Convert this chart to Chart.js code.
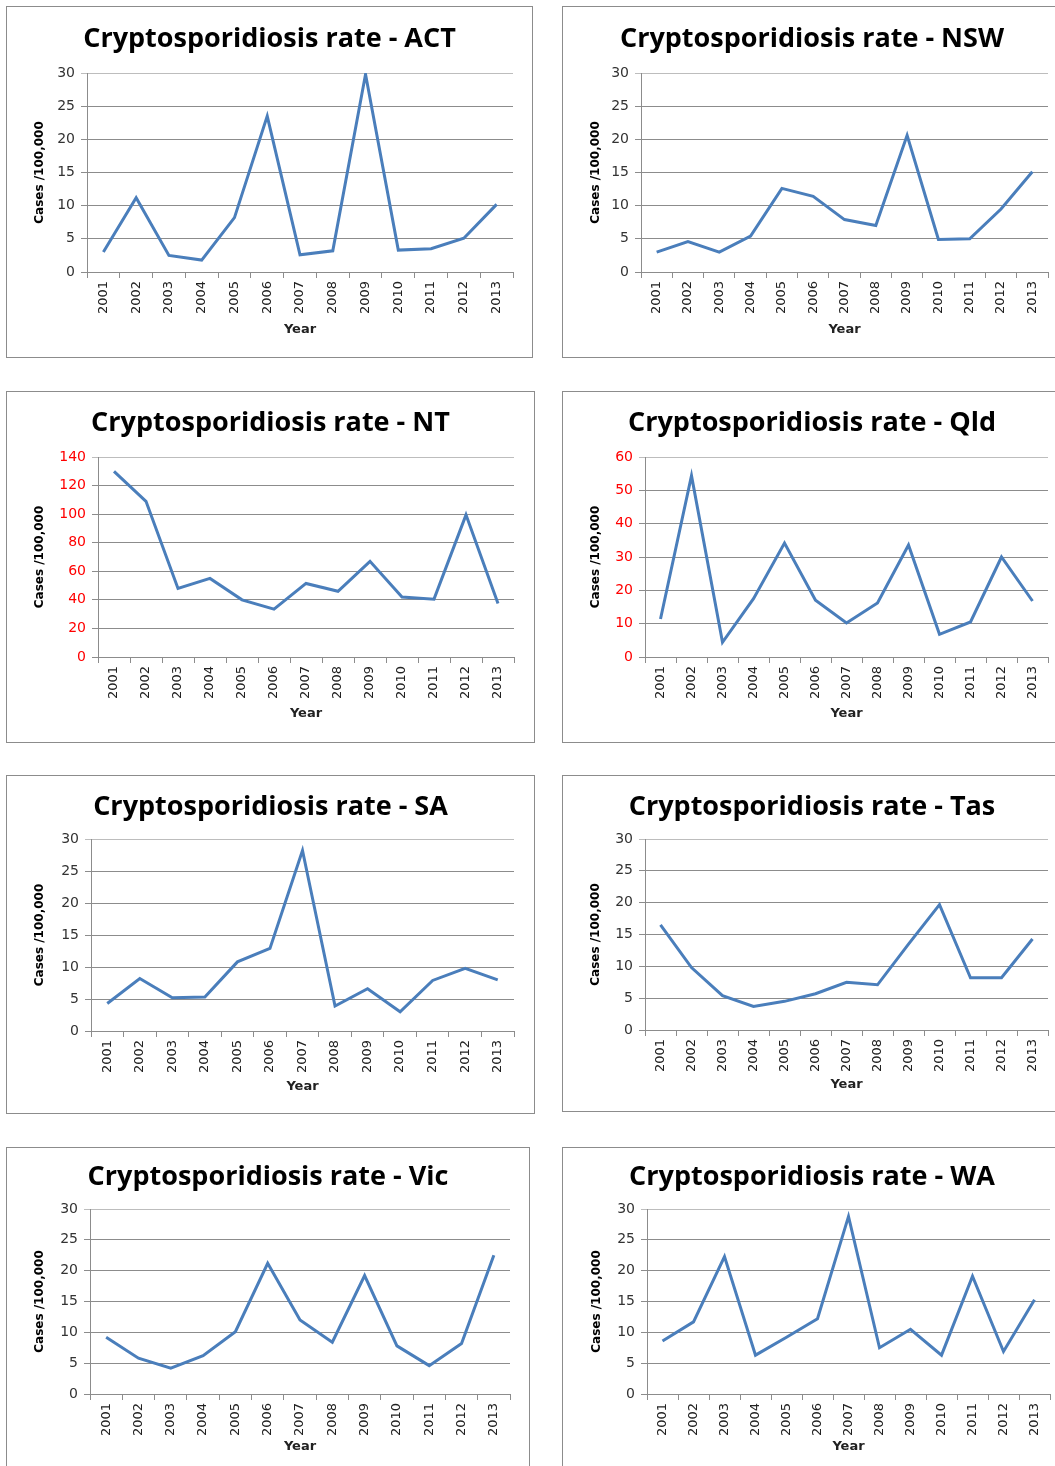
<!DOCTYPE html>
<html>
<head>
<meta charset="utf-8">
<title>Cryptosporidiosis rates</title>
<script src="https://cdn.jsdelivr.net/npm/chart.js@4.4.1/dist/chart.umd.min.js"></script>
<style>
    body { margin: 0; background: #fff; width: 1055px; height: 1466px; overflow: hidden; position: relative; }
    .panel { position: absolute; box-sizing: border-box; border: 1px solid #8c8c8c; }
    .panel canvas { position: absolute; left: -1px; top: -1px; }
</style>
</head>
<body>
<script>
// DATA
const years = ['2001', '2002', '2003', '2004', '2005', '2006', '2007', '2008', '2009', '2010', '2011', '2012', '2013'];

const actRates = [3.0, 11.2, 2.5, 1.8, 8.2, 23.5, 2.6, 3.2, 29.8, 3.3, 3.5, 5.1, 10.2];
const nswRates = [3.0, 4.6, 3.0, 5.4, 12.6, 11.4, 7.9, 7.0, 20.6, 4.9, 5.0, 9.5, 15.1];
const ntRates  = [130, 109, 48, 55, 40, 33.5, 51.5, 46, 67, 42, 40.5, 99.5, 37.5];
const qldRates = [11.4, 54.4, 4.4, 17.5, 34.2, 17.0, 10.2, 16.2, 33.6, 6.8, 10.5, 30.0, 16.8];
const saRates  = [4.3, 8.2, 5.2, 5.3, 10.8, 12.9, 28.2, 3.9, 6.6, 3.0, 7.9, 9.8, 8.0];
const tasRates = [16.5, 9.8, 5.4, 3.7, 4.5, 5.7, 7.5, 7.1, 13.5, 19.7, 8.2, 8.2, 14.3];
const vicRates = [9.2, 5.8, 4.2, 6.2, 10.1, 21.2, 12.0, 8.4, 19.2, 7.8, 4.6, 8.2, 22.5];
const waRates  = [8.6, 11.7, 22.3, 6.3, 9.2, 12.2, 28.8, 7.5, 10.5, 6.3, 19.1, 6.9, 15.3];

// y axis ranges [max, step]
const axis30 = [30, 5];
const axis60 = [60, 10];
const axis140 = [140, 20];

// LAYOUT (page px): box = [left, top, width, height], plot = [left, top, right, bottom]
const panels = [
    { name: 'ACT', data: actRates, axis: axis30,  red: false, box: [6, 6, 527, 352],      plot: [87, 73, 513, 272],     titleY: 39,   yearY: 330,  casesX: 40 },
    { name: 'NSW', data: nswRates, axis: axis30,  red: false, box: [562, 6, 500, 352],    plot: [641, 73, 1048, 272],   titleY: 39,   yearY: 330,  casesX: 596 },
    { name: 'NT',  data: ntRates,  axis: axis140, red: true,  box: [6, 391, 529, 352],    plot: [98, 457, 514, 657],    titleY: 423,  yearY: 714,  casesX: 40 },
    { name: 'Qld', data: qldRates, axis: axis60,  red: true,  box: [562, 391, 500, 352],  plot: [645, 457, 1048, 657],  titleY: 423,  yearY: 714,  casesX: 596 },
    { name: 'SA',  data: saRates,  axis: axis30,  red: false, box: [6, 775, 529, 339],    plot: [91, 839, 514, 1031],   titleY: 807,  yearY: 1087, casesX: 40 },
    { name: 'Tas', data: tasRates, axis: axis30,  red: false, box: [562, 775, 500, 337],  plot: [645, 839, 1048, 1030], titleY: 807,  yearY: 1085, casesX: 596 },
    { name: 'Vic', data: vicRates, axis: axis30,  red: false, box: [6, 1147, 524, 330],   plot: [90, 1209, 510, 1394],  titleY: 1177, yearY: 1447, casesX: 40 },
    { name: 'WA',  data: waRates,  axis: axis30,  red: false, box: [562, 1147, 500, 330], plot: [647, 1209, 1050, 1394], titleY: 1177, yearY: 1447, casesX: 597 }
];

Chart.defaults.font.family = '"DejaVu Sans", sans-serif';
Chart.defaults.animation = false;

const TITLE_SIZE = 27;
const AXIS_TITLE_SIZE = 12;
const YEAR_TITLE_SIZE = 13;

panels.forEach(p => {
    const [bx, by, bw, bh] = p.box;
    const left = p.plot[0] - bx;
    const top = p.plot[1] - by;
    const right = p.plot[2] - bx;
    const bottom = p.plot[3] - by;
    // same padding on both sides keeps the title centred on the box
    const side = bw - right;

    const wrap = document.createElement('div');
    wrap.className = 'panel';
    wrap.style.left = bx + 'px';
    wrap.style.top = by + 'px';
    wrap.style.width = bw + 'px';
    wrap.style.height = bh + 'px';
    const canvas = document.createElement('canvas');
    canvas.width = bw;
    canvas.height = bh;
    wrap.appendChild(canvas);
    document.body.appendChild(wrap);

    const titleLh = TITLE_SIZE * 1.2;
    const titlePadTop = (p.titleY - by) - titleLh / 2;
    const titlePadBottom = top - titlePadTop - titleLh;

    const tickColor = p.red ? '#ff0000' : '#333333';
    const [yMax, yStep] = p.axis;

    new Chart(canvas, {
        type: 'line',
        data: {
            labels: years,
            datasets: [{
                label: p.name,
                data: p.data,
                borderColor: '#4a7ebb',
                borderWidth: 3,
                pointRadius: 0,
                tension: 0,
                fill: false
            }]
        },
        options: {
            responsive: false,
            maintainAspectRatio: false,
            layout: { padding: { left: side, top: 0, right: side, bottom: 0 } },
            plugins: {
                legend: { display: false },
                tooltip: { enabled: false },
                title: {
                    display: true,
                    text: 'Cryptosporidiosis rate - ' + p.name,
                    color: '#000',
                    font: { family: '"Open Sans", sans-serif', size: TITLE_SIZE, weight: 'bold', lineHeight: 1.2 },
                    padding: { top: titlePadTop, bottom: titlePadBottom }
                }
            },
            scales: {
                x: {
                    offset: true,
                    grid: { offset: true, drawOnChartArea: false, drawTicks: true, tickLength: 6, color: '#8c8c8c' },
                    border: { color: '#8c8c8c' },
                    ticks: { autoSkip: false, minRotation: 90, maxRotation: 90, padding: 3, color: '#222222', font: { size: 13 } },
                    title: {
                        display: true,
                        text: 'Year',
                        color: '#222',
                        font: { size: YEAR_TITLE_SIZE, weight: 'bold', lineHeight: 1.2 },
                        padding: { top: 0, bottom: (by + bh - p.yearY) - YEAR_TITLE_SIZE * 0.6 }
                    },
                    afterFit: s => { s.height = bh - bottom; }
                },
                y: {
                    min: 0,
                    max: yMax,
                    ticks: { stepSize: yStep, padding: 6, color: tickColor, font: { size: 14 } },
                    grid: {
                        drawTicks: true,
                        tickLength: 6,
                        color: c => (c.tick && c.tick.value === yMax) ? '#bdbdbd' : '#8c8c8c'
                    },
                    border: { color: '#8c8c8c' },
                    title: {
                        display: true,
                        text: 'Cases /100,000',
                        color: '#000',
                        font: { size: AXIS_TITLE_SIZE, weight: 'bold', lineHeight: 1.2 },
                        padding: { top: (p.casesX - bx) - side - AXIS_TITLE_SIZE * 0.6, bottom: 0 }
                    },
                    afterFit: s => { s.width = left - side; }
                }
            }
        }
    });
});
</script>
</body>
</html>
